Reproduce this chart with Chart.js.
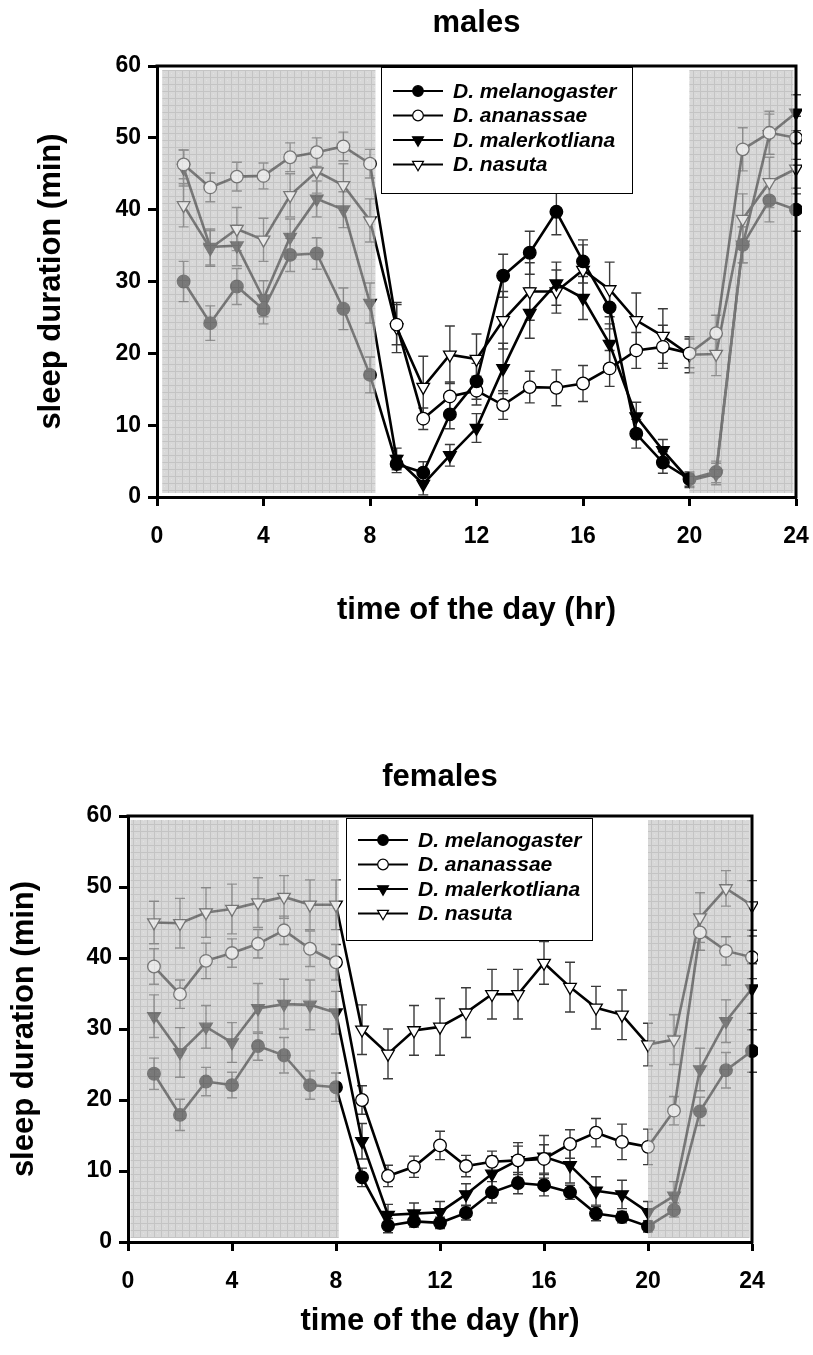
<!DOCTYPE html>
<html>
<head>
<meta charset="utf-8">
<script src="https://cdn.jsdelivr.net/npm/chart.js@4.4.1/dist/chart.umd.min.js"></script>
<style>
  html, body { margin: 0; padding: 0; background: #fff; }
  body { width: 813px; height: 1355px; position: relative; overflow: hidden; }
  .panel { position: absolute; left: 0; width: 813px; }
  #malesWrap { top: 0; height: 640px; }
  #femalesWrap { top: 740px; height: 615px; }
</style>
</head>
<body>
<div class="panel" id="malesWrap"><canvas id="males" width="813" height="640"></canvas></div>
<div class="panel" id="femalesWrap"><canvas id="females" width="813" height="615"></canvas></div>
<script>
// Hour of the day at which each 1-h sleep bin was scored
const hours = [1, 2, 3, 4, 5, 6, 7, 8, 9, 10, 11, 12, 13, 14, 15, 16, 17, 18, 19, 20, 21, 22, 23, 24];
const speciesNames = ['D. melanogaster', 'D. ananassae', 'D. malerkotliana', 'D. nasuta'];
const xTicks = [0, 4, 8, 12, 16, 20, 24];
const yTicks = [0, 10, 20, 30, 40, 50, 60];

// Males: mean sleep (min per hour)
const maleMelanogaster   = [30.0, 24.2, 29.3, 26.1, 33.7, 33.9, 26.2, 17.0, 4.6, 3.4, 11.5, 16.1, 30.8, 34.0, 39.7, 32.8, 26.4, 8.8, 4.8, 2.5, 3.5, 35.1, 41.3, 40.0];
const maleAnanassae      = [46.3, 43.1, 44.6, 44.7, 47.3, 48.0, 48.8, 46.4, 24.0, 10.9, 14.0, 14.8, 12.8, 15.3, 15.2, 15.8, 17.9, 20.4, 20.9, 20.0, 22.8, 48.4, 50.7, 50.0];
const maleMalerkotliana  = [45.8, 34.8, 35.0, 27.6, 36.2, 41.5, 40.0, 27.0, 5.3, 1.8, 5.8, 9.6, 17.9, 25.6, 29.7, 27.7, 21.3, 11.2, 6.5, 2.3, 3.2, 35.1, 50.5, 53.5];
const maleNasuta         = [40.6, 34.6, 37.3, 35.8, 42.0, 45.3, 43.4, 38.5, 23.6, 15.3, 19.8, 19.2, 24.6, 28.6, 28.6, 31.6, 28.9, 24.6, 22.4, 19.8, 19.9, 38.7, 43.8, 45.7];
// Males: standard errors
const maleMelanogasterSE  = [2.8, 2.4, 2.5, 2.0, 2.3, 2.2, 2.9, 2.5, 1.2, 1.5, 2.0, 2.5, 3.0, 3.0, 3.2, 3.0, 3.0, 2.0, 1.5, 1.0, 1.5, 2.5, 3.0, 3.0];
const maleAnanassaeSE     = [2.0, 2.0, 2.0, 1.8, 2.0, 2.0, 2.0, 2.0, 2.8, 1.5, 2.0, 2.0, 2.0, 2.2, 2.5, 2.5, 2.5, 2.5, 3.0, 2.0, 2.5, 3.0, 3.0, 3.0];
const maleMalerkotlianaSE = [2.5, 2.5, 2.8, 2.5, 2.5, 2.5, 2.5, 2.8, 1.5, 1.5, 1.5, 2.0, 3.5, 3.5, 3.0, 3.0, 2.8, 2.0, 1.5, 1.0, 1.5, 2.5, 2.8, 2.5];
const maleNasutaSE        = [3.0, 2.5, 3.0, 3.0, 3.0, 3.0, 3.0, 3.0, 3.5, 4.3, 4.0, 3.5, 4.0, 4.0, 3.0, 3.5, 3.8, 3.8, 3.8, 2.5, 3.0, 3.5, 3.5, 3.5];

// Females: mean sleep (min per hour)
const femaleMelanogaster  = [23.7, 17.9, 22.6, 22.1, 27.6, 26.3, 22.1, 21.8, 9.1, 2.3, 2.9, 2.7, 4.1, 7.0, 8.3, 8.0, 7.0, 4.0, 3.5, 2.2, 4.5, 18.4, 24.2, 26.9];
const femaleAnanassae     = [38.8, 34.9, 39.6, 40.7, 42.0, 43.9, 41.3, 39.4, 20.0, 9.3, 10.6, 13.6, 10.7, 11.3, 11.5, 11.7, 13.8, 15.4, 14.1, 13.4, 18.5, 43.6, 41.0, 40.1];
const femaleMalerkotliana = [31.8, 26.7, 30.3, 28.1, 32.9, 33.5, 33.4, 32.3, 14.2, 3.8, 4.0, 4.2, 6.7, 9.6, 11.5, 12.0, 10.8, 7.2, 6.7, 4.2, 6.5, 24.3, 31.1, 35.7];
const femaleNasuta        = [45.0, 44.9, 46.4, 46.9, 47.8, 48.6, 47.5, 47.5, 29.9, 26.5, 29.8, 30.3, 32.3, 34.9, 34.9, 39.3, 35.9, 33.0, 32.0, 27.8, 28.5, 45.7, 49.8, 47.4];
// Females: standard errors
const femaleMelanogasterSE  = [2.2, 2.2, 2.0, 1.8, 2.0, 2.5, 2.0, 2.0, 1.3, 1.0, 0.8, 0.8, 1.0, 1.5, 1.5, 1.5, 1.0, 1.0, 0.8, 0.8, 1.0, 2.0, 2.5, 3.0];
const femaleAnanassaeSE     = [2.5, 2.0, 2.5, 2.0, 2.0, 2.0, 2.5, 2.5, 2.0, 1.5, 1.5, 2.0, 1.5, 1.5, 2.0, 2.0, 2.0, 2.0, 2.5, 2.5, 2.0, 2.5, 2.0, 3.0];
const femaleMalerkotlianaSE = [3.0, 3.5, 3.0, 2.8, 3.5, 3.5, 3.5, 3.0, 2.5, 1.5, 1.5, 1.5, 1.5, 2.5, 2.5, 3.0, 2.5, 2.0, 2.0, 1.5, 2.0, 3.0, 3.0, 3.5];
const femaleNasutaSE        = [3.0, 3.5, 3.5, 3.5, 3.5, 3.0, 3.5, 3.5, 3.5, 3.5, 3.5, 4.0, 3.5, 3.5, 3.5, 3.0, 3.5, 3.0, 3.5, 3.0, 3.5, 3.5, 2.5, 3.5];

// Dark phases (hours) shaded on each panel
const maleDarkPhases = [[0.2, 8.2], [20.0, 23.9]];
const femaleDarkPhases = [[0.1, 8.1], [20.0, 23.9]];

const FONT = '"Liberation Sans", Arial, Helvetica, sans-serif';

const markerStyles = [
  { pointStyle: 'circle',   rotation: 0,   fill: '#000', radius: 6.3 },
  { pointStyle: 'circle',   rotation: 0,   fill: '#fff', radius: 6.3 },
  { pointStyle: 'triangle', rotation: 180, fill: '#000', radius: 7.3 },
  { pointStyle: 'triangle', rotation: 180, fill: '#fff', radius: 7.3 }
];

function buildDatasets(seriesList, errorList) {
  return seriesList.map((values, i) => {
    const m = markerStyles[i];
    return {
      label: speciesNames[i],
      data: hours.map((h, j) => ({ x: h, y: values[j] })),
      errors: errorList[i],
      borderColor: '#000',
      borderWidth: 2.6,
      backgroundColor: m.fill,
      pointBackgroundColor: m.fill,
      pointBorderColor: '#000',
      pointBorderWidth: 1.3,
      pointStyle: m.pointStyle,
      pointRotation: m.rotation,
      pointRadius: m.radius,
      tension: 0,
      clip: 6
    };
  });
}

function makeShadePattern(ctx) {
  const c = document.createElement('canvas');
  c.width = 7; c.height = 7;
  const g = c.getContext('2d');
  g.fillStyle = '#d8d8d8';
  g.fillRect(0, 0, 7, 7);
  g.fillStyle = '#c4c4c4';
  g.fillRect(0, 0, 7, 1);
  g.fillRect(0, 0, 1, 7);
  g.fillStyle = '#e2e2e2';
  g.fillRect(3, 3, 1, 1);
  return ctx.createPattern(c, 'repeat');
}

// Dark-phase shading, error bars, frame, inset legend and panel title
const panelPlugin = {
  id: 'panel',
  beforeDatasetsDraw(chart, args, opts) {
    const { ctx, chartArea: a, scales: { x, y } } = chart;
    if (!chart.$shade) chart.$shade = makeShadePattern(ctx);
    ctx.save();
    ctx.fillStyle = chart.$shade;
    opts.shade.forEach(([h0, h1]) => {
      const px0 = x.getPixelForValue(h0), px1 = x.getPixelForValue(h1);
      ctx.fillRect(px0, a.top + opts.inset, px1 - px0, a.height - 2 * opts.inset);
    });
    // error bars
    ctx.strokeStyle = '#3a3a3a';
    ctx.lineWidth = 1.4;
    chart.data.datasets.forEach((ds) => {
      ds.data.forEach((p, j) => {
        const e = ds.errors[j];
        const px = x.getPixelForValue(p.x);
        const top = y.getPixelForValue(p.y + e);
        const bot = y.getPixelForValue(p.y - e);
        ctx.beginPath();
        ctx.moveTo(px, top); ctx.lineTo(px, bot);
        ctx.moveTo(px - 5, top); ctx.lineTo(px + 5, top);
        ctx.moveTo(px - 5, bot); ctx.lineTo(px + 5, bot);
        ctx.stroke();
      });
    });
    ctx.restore();
  },
  afterDatasetsDraw(chart, args, opts) {
    const { ctx, chartArea: a, scales: { x } } = chart;
    ctx.save();
    ctx.globalAlpha = 0.56;
    ctx.fillStyle = chart.$shade;
    opts.shade.forEach(([h0, h1]) => {
      const px0 = x.getPixelForValue(h0), px1 = x.getPixelForValue(h1);
      ctx.fillRect(px0, a.top + opts.inset, px1 - px0, a.height - 2 * opts.inset);
    });
    ctx.restore();
  },
  afterDraw(chart, args, opts) {
    const { ctx, chartArea: a } = chart;
    ctx.save();
    // top and right frame
    ctx.strokeStyle = '#000';
    ctx.lineWidth = 3;
    ctx.beginPath();
    ctx.moveTo(a.left - 1.5, a.top);
    ctx.lineTo(a.right, a.top);
    ctx.lineTo(a.right, a.bottom + 1.5);
    ctx.stroke();

    // legend
    const L = opts.legend;
    const lx = a.left + L.dx, ly = a.top + L.dy;
    ctx.fillStyle = '#fff';
    ctx.fillRect(lx, ly, L.w, L.h);
    ctx.lineWidth = 1;
    ctx.strokeStyle = '#000';
    ctx.strokeRect(lx + 0.5, ly + 0.5, L.w, L.h);
    ctx.font = 'italic bold ' + L.fontSize + 'px ' + FONT;
    ctx.textBaseline = 'middle';
    ctx.textAlign = 'left';
    chart.data.datasets.forEach((ds, i) => {
      const m = markerStyles[i];
      const rowY = ly + L.firstRow + i * L.rowGap;
      const sx = lx + L.sampleX;
      ctx.strokeStyle = '#000';
      ctx.lineWidth = 2.2;
      ctx.beginPath();
      ctx.moveTo(sx, rowY); ctx.lineTo(sx + L.sampleLen, rowY);
      ctx.stroke();
      ctx.fillStyle = m.fill;
      ctx.lineWidth = 1.2;
      Chart.helpers.drawPoint(ctx, { pointStyle: m.pointStyle, rotation: m.rotation, radius: m.radius - 1, borderWidth: 1.2 }, sx + L.sampleLen / 2, rowY);
      ctx.fillStyle = '#000';
      ctx.fillText(ds.label, sx + L.sampleLen + L.textGap, rowY + 1);
    });

    // panel title
    ctx.font = 'bold ' + opts.titleSize + 'px ' + FONT;
    ctx.textAlign = 'center';
    ctx.textBaseline = 'middle';
    ctx.fillStyle = '#000';
    ctx.fillText(opts.title, (a.left + a.right) / 2, opts.titleY);
    ctx.restore();
  }
};

function makeChart(id, seriesList, errorList, cfg) {
  return new Chart(document.getElementById(id), {
    type: 'line',
    data: { datasets: buildDatasets(seriesList, errorList) },
    plugins: [panelPlugin],
    options: {
      responsive: false,
      animation: false,
      events: [],
      layout: { padding: cfg.padding },
      plugins: {
        legend: { display: false },
        tooltip: { enabled: false },
        title: { display: false },
        panel: {
          shade: cfg.shade,
          inset: 4,
          title: cfg.title,
          titleY: cfg.titleY,
          titleSize: 31,
          legend: cfg.legend
        }
      },
      scales: {
        x: {
          type: 'linear',
          min: 0, max: 24,
          afterBuildTicks: (s) => { s.ticks = xTicks.map(v => ({ value: v })); },
          afterFit: (s) => { s.height = cfg.xAxisHeight; s.paddingLeft = 0; s.paddingRight = 0; },
          border: { display: true, color: '#000', width: 3 },
          grid: { drawOnChartArea: false, drawTicks: true, tickLength: 9, tickWidth: 3, tickColor: '#000', color: '#000' },
          ticks: { color: '#000', padding: 17, maxRotation: 0, font: { family: FONT, size: 23, weight: 'bold' } },
          title: {
            display: true, text: 'time of the day (hr)', color: '#000',
            font: { family: FONT, size: 31, weight: 'bold' },
            padding: { top: 0, bottom: cfg.xTitlePad }
          }
        },
        y: {
          type: 'linear',
          min: 0, max: 60,
          afterBuildTicks: (s) => { s.ticks = yTicks.map(v => ({ value: v })); },
          afterFit: (s) => { s.width = cfg.yAxisWidth; s.paddingTop = 0; s.paddingBottom = 0; },
          border: { display: true, color: '#000', width: 3 },
          grid: { drawOnChartArea: false, drawTicks: true, tickLength: 9, tickWidth: 3, tickColor: '#000', color: '#000' },
          ticks: { color: '#000', padding: 7, font: { family: FONT, size: 23, weight: 'bold' } },
          title: {
            display: true, text: 'sleep duration (min)', color: '#000',
            font: { family: FONT, size: 31, weight: 'bold' },
            padding: { top: 3, bottom: 0 }
          }
        }
      }
    }
  });
}

makeChart('males',
  [maleMelanogaster, maleAnanassae, maleMalerkotliana, maleNasuta],
  [maleMelanogasterSE, maleAnanassaeSE, maleMalerkotlianaSE, maleNasutaSE],
  {
    padding: { left: 30, right: 17, top: 66, bottom: 0 },
    yAxisWidth: 127,
    xAxisHeight: 143,
    xTitlePad: 11,
    shade: maleDarkPhases,
    title: 'males',
    titleY: 23,
    legend: { dx: 224, dy: 1, w: 251, h: 126, firstRow: 24, rowGap: 24.5, sampleX: 12, sampleLen: 50, textGap: 10, fontSize: 21 }
  });

makeChart('females',
  [femaleMelanogaster, femaleAnanassae, femaleMalerkotliana, femaleNasuta],
  [femaleMelanogasterSE, femaleAnanassaeSE, femaleMalerkotlianaSE, femaleNasutaSE],
  {
    padding: { left: 3, right: 61, top: 76, bottom: 0 },
    yAxisWidth: 125,
    xAxisHeight: 113,
    xTitlePad: 15,
    shade: femaleDarkPhases,
    title: 'females',
    titleY: 37,
    legend: { dx: 218, dy: 2, w: 246, h: 122, firstRow: 22, rowGap: 24.5, sampleX: 12, sampleLen: 50, textGap: 10, fontSize: 21 }
  });
</script>
</body>
</html>
